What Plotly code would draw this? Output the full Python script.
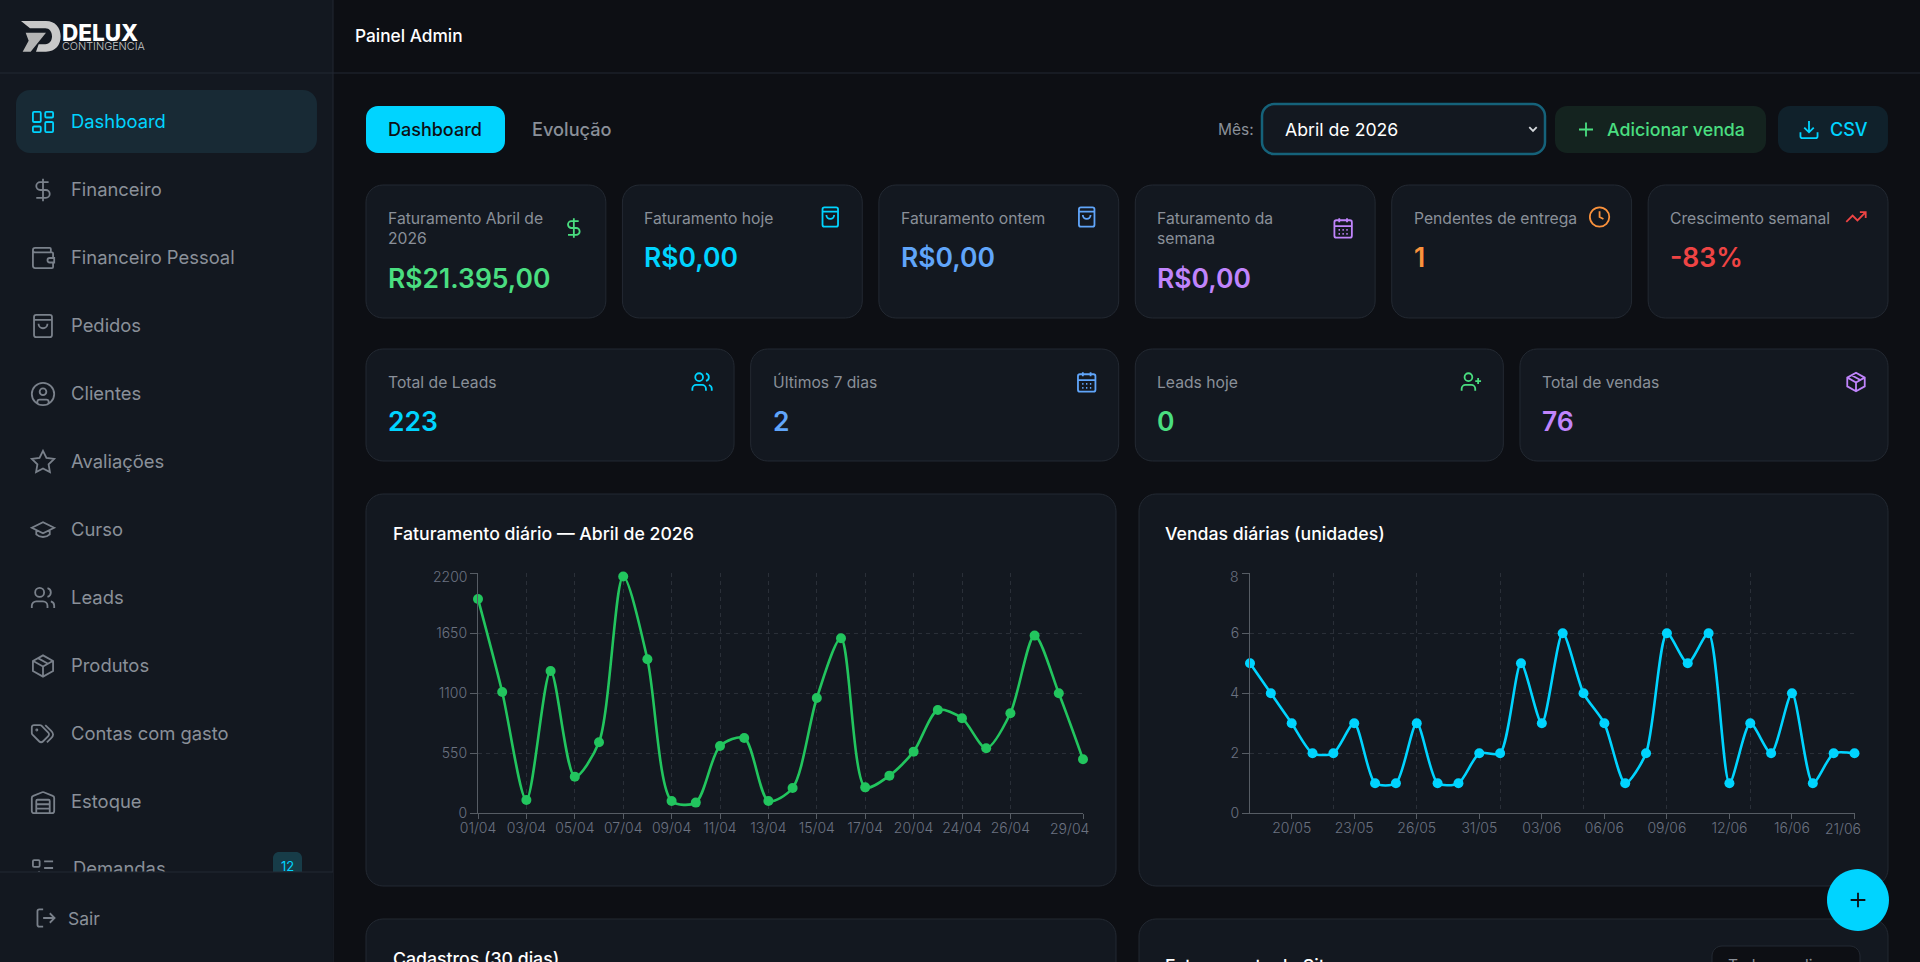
import re
import plotly.graph_objects as go

W, H = 1920, 962
FONT = "Inter"

# dados dos graficos
fat_dias = ['01/04', '02/04', '03/04', '04/04', '05/04', '06/04', '07/04', '08/04', '09/04', '10/04', '11/04', '12/04', '13/04',
            '14/04', '15/04', '16/04', '17/04', '18/04', '20/04', '22/04', '24/04', '25/04', '26/04', '27/04', '28/04', '29/04']
fat_valores = [1965, 1112, 122, 1305, 336, 651, 2170, 1412, 113, 98, 617, 691, 113,
               232, 1057, 1604, 238, 345, 565, 947, 871, 596, 917, 1629, 1100, 495]
fat_ticks = ['01/04', '03/04', '05/04', '07/04', '09/04', '11/04', '13/04', '15/04', '17/04', '20/04', '24/04', '26/04', '29/04']
fat_yticks = [0, 550, 1100, 1650, 2200]

vendas_dias = ['18/05', '19/05', '20/05', '21/05', '22/05', '23/05', '24/05', '25/05', '26/05', '28/05', '29/05', '31/05', '01/06', '02/06', '03/06',
               '04/06', '05/06', '06/06', '07/06', '08/06', '09/06', '10/06', '11/06', '12/06', '13/06', '15/06', '16/06', '18/06', '20/06', '21/06']
vendas_valores = [5, 4, 3, 2, 2, 3, 1, 1, 3, 1, 1, 2, 2, 5, 3, 6, 4, 3, 1, 2, 6, 5, 6, 1, 3, 2, 4, 1, 2, 2]
vendas_ticks = ['20/05', '23/05', '26/05', '31/05', '03/06', '06/06', '09/06', '12/06', '16/06', '21/06']
vendas_grid = ['22/05', '26/05', '01/06', '05/06', '09/06', '13/06', '21/06']
vendas_yticks = [0, 2, 4, 6, 8]

# textos do painel
nav_labels = ['Dashboard', 'Financeiro', 'Financeiro Pessoal', 'Pedidos', 'Clientes', 'Avaliações', 'Curso', 'Leads', 'Produtos', 'Contas com gasto', 'Estoque']
nav_icons = ['dashboard', 'dollar', 'wallet', 'bag', 'user', 'star', 'cap', 'users', 'package', 'tags', 'warehouse']
kpi1_labels = ['Faturamento Abril de<br>2026', 'Faturamento hoje', 'Faturamento ontem', 'Faturamento da<br>semana', 'Pendentes de entrega', 'Crescimento semanal']
kpi1_values = ['R$21.395,00', 'R$0,00', 'R$0,00', 'R$0,00', '1', '-83%']
kpi1_icons = ['dollar', 'bag', 'bag', 'calendar', 'clock', 'trend']
kpi1_colors = ['#4ade80', '#00d4ff', '#60a5fa', '#c084fc', '#fb923c', '#ef4444']
kpi2_labels = ['Total de Leads', 'Últimos 7 dias', 'Leads hoje', 'Total de vendas']
kpi2_values = ['223', '2', '0', '76']
kpi2_icons = ['users', 'calendar', 'userplus', 'package']
kpi2_colors = ['#00d4ff', '#60a5fa', '#4ade80', '#c084fc']

BG = '#0d0f14'
PANEL = '#131820'
BORDER = '#232932'
MUTED = '#8a9099'
CYAN = '#00d4ff'
GREEN = '#22c55e'


def px(x):
    return x / W


def py(y):
    return 1 - y / H


def R(x, y, w, h, r):
    k = r * 0.45
    x1, y1 = x + w, y + h
    return (f'M{x + r} {y} L{x1 - r} {y} C{x1 - k} {y} {x1} {y + k} {x1} {y + r} L{x1} {y1 - r} '
            f'C{x1} {y1 - k} {x1 - k} {y1} {x1 - r} {y1} L{x + r} {y1} C{x + k} {y1} {x} {y1 - k} {x} {y1 - r} '
            f'L{x} {y + r} C{x} {y + k} {x + k} {y} {x + r} {y} Z ')


def O(cx, cy, r):
    return R(cx - r, cy - r, 2 * r, 2 * r, r)


ICONS = {
    'dashboard': R(3, 3, 7, 9, 1) + R(14, 3, 7, 5, 1) + R(14, 12, 7, 9, 1) + R(3, 16, 7, 5, 1),
    'dollar': 'M12 2 L12 22 M17 5 L9.5 5 C7.6 5 6 6.6 6 8.5 C6 10.4 7.6 12 9.5 12 L14.5 12 C16.4 12 18 13.6 18 15.5 C18 17.4 16.4 19 14.5 19 L6 19',
    'wallet': 'M19 7 L19 4 C19 3.4 18.6 3 18 3 L5 3 C3.9 3 3 3.9 3 5 C3 6.1 3.9 7 5 7 L20 7 C20.6 7 21 7.4 21 8 L21 12 M21 16 L21 20 C21 20.6 20.6 21 20 21 L5 21 C3.9 21 3 20.1 3 19 L3 5 M18 12 C16.9 12 16 12.9 16 14 C16 15.1 16.9 16 18 16 L22 16 L22 12 Z',
    'bag': R(4, 2, 16, 20, 2) + 'M4 6.5 L20 6.5 M16 10 C16 12.2 14.2 14 12 14 C9.8 14 8 12.2 8 10',
    'user': O(12, 12, 10) + O(12, 10, 3) + 'M7 20.7 L7 19 C7 17.9 7.9 17 9 17 L15 17 C16.1 17 17 17.9 17 19 L17 20.7',
    'star': 'M12 2 L15.09 8.26 L22 9.27 L17 14.14 L18.18 21.02 L12 17.77 L5.82 21.02 L7 14.14 L2 9.27 L8.91 8.26 Z',
    'cap': 'M22 10 L12 5 L2 10 L12 15 Z M6 12.5 L6 16 C9 19 15 19 18 16 L18 12.5',
    'users': 'M16 21 L16 19 C16 16.8 14.2 15 12 15 L6 15 C3.8 15 2 16.8 2 19 L2 21 ' + O(9, 7, 4) + 'M22 21 L22 19 C22 17.2 20.8 15.6 19 15.1 M16 3.1 C17.8 3.6 19 5.2 19 7 C19 8.8 17.8 10.4 16 10.9',
    'package': 'M12 2.5 L21 7.5 L21 16.5 L12 21.5 L3 16.5 L3 7.5 Z M3.3 7.5 L12 12.5 L20.7 7.5 M12 22 L12 12.5 M7.5 5 L16.5 10',
    'tags': 'M2 6 L2 11.2 C2 11.7 2.2 12.2 2.6 12.6 L8.7 18.7 C9.6 19.6 11 19.6 11.9 18.7 L16.7 13.9 C17.6 13 17.6 11.6 16.7 10.7 L10.6 4.6 C10.2 4.2 9.7 4 9.2 4 L4 4 C2.9 4 2 4.9 2 6 Z M14 4 L19.3 9.3 C21.6 11.6 21.6 13.4 19.3 15.7 L15.5 19.5 ' + O(6.5, 8.5, 0.5),
    'warehouse': 'M22 8.35 L22 20 C22 21.1 21.1 22 20 22 L4 22 C2.9 22 2 21.1 2 20 L2 8.35 C2 7.5 2.5 6.8 3.3 6.5 L11.3 3.3 C11.8 3.1 12.2 3.1 12.7 3.3 L20.7 6.5 C21.5 6.8 22 7.5 22 8.35 Z M6 18 L18 18 M6 14 L18 14 M6 22 L6 11 C6 10.4 6.4 10 7 10 L17 10 C17.6 10 18 10.4 18 11 L18 22',
    'list': R(3, 5, 6, 6, 1) + 'M3 17 L5 19 L9 15 M13 6 L21 6 M13 12 L21 12 M13 18 L21 18',
    'logout': 'M9 21 L5 21 C3.9 21 3 20.1 3 19 L3 5 C3 3.9 3.9 3 5 3 L9 3 M16 17 L21 12 L16 7 M21 12 L9 12',
    'plus': 'M5 12 L19 12 M12 5 L12 19',
    'download': 'M21 15 L21 19 C21 20.1 20.1 21 19 21 L5 21 C3.9 21 3 20.1 3 19 L3 15 M7 10 L12 15 L17 10 M12 15 L12 3',
    'calendar': R(3, 4, 18, 18, 2) + 'M16 2 L16 6 M8 2 L8 6 M3 10 L21 10 M7.3 14 L8.7 14 M11.3 14 L12.7 14 M15.3 14 L16.7 14 M7.3 18 L8.7 18 M11.3 18 L12.7 18 M15.3 18 L16.7 18',
    'clock': O(12, 12, 10) + 'M12 6 L12 12 L16 14',
    'trend': 'M22 7 L13.5 15.5 L8.5 10.5 L2 17 M16 7 L22 7 L22 13',
    'userplus': 'M16 21 L16 19 C16 16.8 14.2 15 12 15 L6 15 C3.8 15 2 16.8 2 19 L2 21 ' + O(9, 7, 4) + 'M19 8 L19 14 M22 11 L16 11',
    'chevron': 'M6 9 L12 15 L18 9',
}

shapes = []
notes = []


def to_paper(d, fx, fy):
    # troca os numeros do caminho (x y alternados) por coordenadas de papel
    i = [0]

    def rep(m):
        v = float(m.group(0))
        i[0] += 1
        return f'{px(fx(v)) if i[0] % 2 else py(fy(v)):.6f}'
    return re.sub(r'-?\d+\.?\d*', rep, d)


def path(d, fill='rgba(0,0,0,0)', line=None, lw=1.0):
    shapes.append(dict(type='path', xref='paper', yref='paper', path=d, fillcolor=fill, layer='below',
                       line=dict(color=line or 'rgba(0,0,0,0)', width=lw if line else 0)))


def box(x0, y0, x1, y1, r, fill, line=None, lw=1.0):
    path(to_paper(R(x0, y0, x1 - x0, y1 - y0, r), lambda v: v, lambda v: v), fill, line, lw)


def icon(name, cx, cy, color, s=1.0, lw=1.8):
    d = to_paper(ICONS[name], lambda v: cx + (v - 12) * s, lambda v: cy + (v - 12) * s)
    path(d, line=color, lw=lw)


def txt(x, y, s, size, color, anchor='left', weight=400):
    notes.append(dict(x=px(x - 1), y=py(y), xref='paper', yref='paper', text=s, showarrow=False, xanchor=anchor, yanchor='middle',
                      align='left', borderpad=0, font=dict(family=FONT, size=size, color=color, weight=weight)))


# barra lateral
box(-5, -5, 333, H + 5, 0, PANEL)
shapes.append(dict(type='line', xref='paper', yref='paper', x0=px(333), x1=px(333), y0=0, y1=1, line=dict(color=BORDER, width=1), layer='below'))
shapes.append(dict(type='line', xref='paper', yref='paper', x0=0, x1=1, y0=py(73), y1=py(73), line=dict(color=BORDER, width=1), layer='below'))

# logo
logo_a = 'M33 33 L108 33 C136 33 152 53 152 79 C152 105 136 125 108 125 L78 125 L86 103 L106 103 C119 103 126 92 126 79 C126 65 118 55 106 55 L60 55 Z'
logo_b = 'M47 68 L108 68 L62 125 L38 125 L56 92 Z'
path(to_paper(logo_a, lambda v: 10 + v / 3, lambda v: 10 + v / 3), fill='#c8c8c8')
path(to_paper(logo_b, lambda v: 10 + v / 3, lambda v: 10 + v / 3), fill='#b4b4b4')
txt(62, 32, 'DELUX', 22.5, '#ffffff', weight=800)
txt(62, 46, 'CONTINGÊNCIA', 10.8, '#c8c8c8', weight=300)

txt(355, 35, 'Painel Admin', 17.3, '#ffffff', weight=500)

# menu
box(16, 90, 317, 153, 14, '#182a35')
for i, (lab, ic) in enumerate(zip(nav_labels, nav_icons)):
    cy = 122 + 68 * i
    cor = CYAN if i == 0 else MUTED
    icon(ic, 43, cy, CYAN if i == 0 else '#7a818b', s=1.12)
    txt(71, cy - 1, lab, 18.4, cor)

# Demandas fica cortado pelo rodape da barra, entao vai como rotulo de forma
icon('list', 43, 868, '#7a818b', s=1.12)
shapes.append(dict(type='rect', xref='paper', yref='paper', x0=px(70), x1=px(260), y0=py(880), y1=py(856), fillcolor='rgba(0,0,0,0)', line=dict(width=0), layer='below',
                   label=dict(text='Demandas', textposition='middle left', padding=0, font=dict(family=FONT, size=18.4, color=MUTED))))
box(273, 852, 302, 890, 6, '#173c48')
shapes.append(dict(type='rect', xref='paper', yref='paper', x0=px(273), x1=px(302), y0=py(884), y1=py(848), fillcolor='rgba(0,0,0,0)', line=dict(width=0), layer='below',
                   label=dict(text='12', textposition='middle center', padding=0, font=dict(family=FONT, size=13, color=CYAN))))
box(0, 872, 333, H + 5, 0, PANEL)
shapes.append(dict(type='line', xref='paper', yref='paper', x0=0, x1=px(333), y0=py(872), y1=py(872), line=dict(color=BORDER, width=1), layer='below'))
icon('logout', 46, 918, '#7a818b', s=0.95)
txt(68, 918, 'Sair', 17.5, MUTED)

# abas e botoes
box(366, 106, 505, 153, 12, CYAN)
txt(436, 129.5, 'Dashboard', 18, '#0d0f14', 'center', 500)
txt(532, 129.5, 'Evolução', 18.2, MUTED, weight=500)
txt(1218, 129.5, 'Mês:', 15.5, MUTED)
box(1262, 104, 1545, 154, 12, PANEL, '#15627a', 2.5)
txt(1285, 129.5, 'Abril de 2026', 17.7, '#ffffff')
icon('chevron', 1533, 129, '#d5d8dc', s=0.62)
box(1555, 106, 1766, 153, 12, '#14231f')
icon('plus', 1586, 129.5, '#4ade80', s=1.0)
txt(1607, 129.5, 'Adicionar venda', 17.8, '#4ade80', weight=500)
box(1778, 106, 1888, 153, 12, '#10212b')
icon('download', 1809, 129.5, CYAN, s=0.95)
txt(1830, 129.5, 'CSV', 18, CYAN, weight=500)

# cartoes de indicadores
w1 = (1522 - 5 * 16.6) / 6
for i in range(6):
    x0 = 366 + i * (w1 + 16.6)
    box(x0, 185, x0 + w1, 318, 17, PANEL, BORDER)
    duas = '<br>' in kpi1_labels[i]
    txt(x0 + 22, 228.5 if duas else 218.5, kpi1_labels[i], 15.7, MUTED)
    txt(x0 + 22, 278 if duas else 257, kpi1_values[i], 26.5, kpi1_colors[i], weight=600)
    icon(kpi1_icons[i], x0 + w1 - 32, 228 if duas else 217, kpi1_colors[i], s=0.97)

w2 = (1522 - 3 * 16.6) / 4
for i in range(4):
    x0 = 366 + i * (w2 + 16.6)
    box(x0, 349, x0 + w2, 461, 17, PANEL, BORDER)
    txt(x0 + 22, 382, kpi2_labels[i], 15.7, MUTED)
    txt(x0 + 22, 421, kpi2_values[i], 26.5, kpi2_colors[i], weight=600)
    icon(kpi2_icons[i], x0 + w2 - 32, 382, kpi2_colors[i], s=0.97)

# cartoes dos graficos
box(366, 494, 1116, 886, 17, PANEL, BORDER)
box(1139, 494, 1888, 886, 17, PANEL, BORDER)
box(366, 919, 1116, 1100, 17, PANEL, BORDER)
box(1139, 919, 1888, 1100, 17, PANEL, BORDER)
box(1712, 946, 1860, 1010, 10, BG, BORDER)
txt(393, 533, 'Faturamento diário — Abril de 2026', 17.7, '#ffffff', weight=500)
txt(1165, 533, 'Vendas diárias (unidades)', 17.7, '#ffffff', weight=500)
txt(393, 958, 'Cadastros (30 dias)', 17.7, '#ffffff', weight=500)
txt(1165, 966, 'Faturamento do Site', 17.7, '#ffffff', weight=500)
txt(1728, 966, 'Todos os dias', 15.5, MUTED)

fig = go.Figure()
fig.add_trace(go.Scatter(x=fat_dias, y=fat_valores, xaxis='x', yaxis='y', mode='lines+markers', cliponaxis=False,
                         line=dict(color=GREEN, width=2.6, shape='spline', smoothing=0.8), marker=dict(color=GREEN, size=10)))
fig.add_trace(go.Scatter(x=vendas_dias, y=vendas_valores, xaxis='x2', yaxis='y2', mode='lines+markers', cliponaxis=False,
                         line=dict(color=CYAN, width=2.6, shape='spline', smoothing=0.7), marker=dict(color=CYAN, size=10)))

tick_font = dict(family=FONT, size=14, color='#6b7280', weight=300)
GRID_DASH = '4px,4px'
eixo = dict(automargin=False, showline=True, linecolor='#565c64', linewidth=1.3, ticks='outside', ticklen=7, tickcolor='#565c64', tickwidth=1,
            tickfont=tick_font, zeroline=False, gridcolor='#2a2f38', griddash=GRID_DASH, gridwidth=1)
eixo_x = dict(eixo, ticklen=5, ticklabelstandoff=-3)

fig.update_layout(
    width=W, height=H, margin=dict(l=0, r=0, t=0, b=0, autoexpand=False), showlegend=False, hovermode=False,
    paper_bgcolor=BG, plot_bgcolor='rgba(0,0,0,0)', shapes=shapes,
    xaxis=dict(eixo_x, type='category', categoryorder='array', categoryarray=fat_dias, domain=[px(478), px(1083)], range=[0, len(fat_dias) - 1], anchor='y',
               tickmode='array', tickvals=fat_ticks, ticktext=fat_ticks[:-1] + [''], showgrid=True),
    yaxis=dict(eixo, domain=[py(813.3), py(573.3)], range=[0, 2200], anchor='x', tickmode='array', tickvals=fat_yticks,
               ticktext=[str(v) for v in fat_yticks[:-1]] + [''], showgrid=True),
    xaxis2=dict(eixo_x, type='category', categoryorder='array', categoryarray=vendas_dias, domain=[px(1250), px(1854.5)], range=[0, len(vendas_dias) - 1], anchor='y2',
                tickmode='array', tickvals=vendas_ticks, ticktext=vendas_ticks[:-1] + [''], showgrid=False,
                minor=dict(tickmode='array', tickvals=vendas_grid, ticks='', showgrid=True, gridcolor='#2a2f38', griddash=GRID_DASH, gridwidth=1)),
    yaxis2=dict(eixo, domain=[py(813.3), py(573.3)], range=[0, 8], anchor='x2', tickmode='array', tickvals=vendas_yticks,
                ticktext=[str(v) for v in vendas_yticks[:-1]] + [''], showgrid=True),
)

# rotulos das pontas, deslocados para dentro como no original
for xr, yr, xv, xs, yv, ys in [('x', 'y', fat_ticks[-1], -14, 0, -15), ('x2', 'y2', vendas_ticks[-1], -12, 0, -15),
                               ('x', 'y', fat_dias[0], -10, fat_yticks[-1], -3), ('x2', 'y2', vendas_dias[0], -10, vendas_yticks[-1], -3)]:
    eh_x = ys == -15
    notes.append(dict(x=xv, y=yv, xref=xr, yref=yr, xshift=xs, yshift=ys, showarrow=False, borderpad=0,
                      xanchor='center' if eh_x else 'right', yanchor='middle', font=tick_font,
                      text=xv if eh_x else str(yv)))

# botao flutuante
path(to_paper(O(1858, 900, 31), lambda v: v, lambda v: v), fill=CYAN)
shapes[-1]['layer'] = 'above'
d = to_paper(ICONS['plus'], lambda v: 1858 + (v - 12) * 1.05, lambda v: 900 + (v - 12) * 1.05)
shapes.append(dict(type='path', xref='paper', yref='paper', path=d, line=dict(color='#0d0f14', width=1.8), layer='above'))

fig.update_layout(shapes=shapes, annotations=notes)
fig.write_html("out.html", config={'displayModeBar': False},
               post_script="document.body.style.margin='0';document.body.style.background='#0d0f14';document.body.style.overflow='hidden';")
